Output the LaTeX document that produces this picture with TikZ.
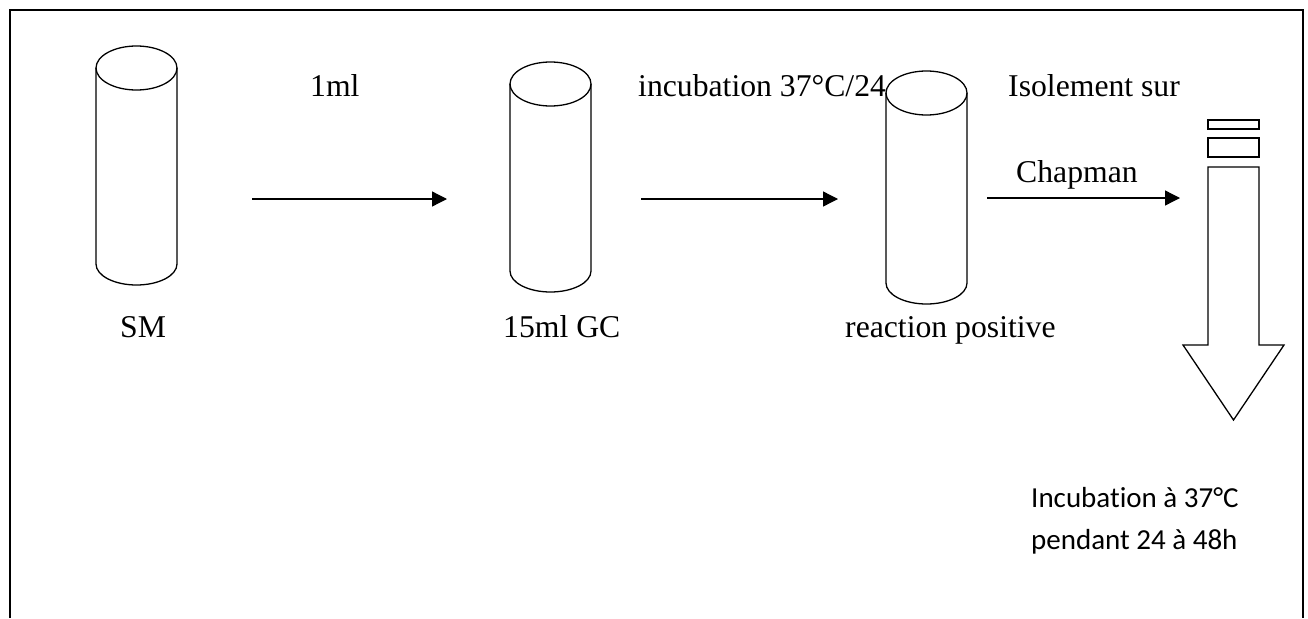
\documentclass[tikz,border=0pt]{standalone}
\usepackage{fontspec}
\setmainfont{Liberation Serif}
\newfontfamily\calibri[Ligatures=NoCommon]{Carlito}
\usetikzlibrary{arrows.meta,positioning}

\tikzset{
  tubeline/.style={line width=1.3pt},
  flow/.style={line width=1.3pt,-{Triangle[length=15pt,width=15pt]}},
  lbl/.style={inner sep=0pt,anchor=base west,font=\fontsize{31.7}{38}\selectfont},
}

% test tube: name, centre x, top y, bottom y
\newcommand{\tube}[4]{%
  \draw[tubeline] (#2-40.5,#3) -- (#2-40.5,#4)
    arc[start angle=180,end angle=0,x radius=40.5,y radius=21] -- (#2+40.5,#3);
  \draw[tubeline] (#2,#3) ellipse[x radius=40.5,y radius=22];
  \coordinate (#1) at (#2,#3);
}

\begin{document}
\begin{tikzpicture}[x=1pt,y=-1pt]
	\useasboundingbox (0,0) rectangle (1308,618);
	\draw[line width=2pt] (10,618) -- (10,10) -- (1303,10) -- (1303,618);

	\tube{sm}{136.5}{68}{264}
	\tube{gc}{550.5}{84}{271}
	\tube{pos}{926.5}{93}{283}

	\node[lbl] (smlbl) at (120,337) {SM};
	\node[lbl] (gclbl) at (503,337) {15ml GC};
	\node[lbl] (poslbl) at (845,337) {reaction positive};

	\node[lbl] (vol) at (310,96) {1ml};
	\node[lbl] (incub) at (638,96) {incubation 37°C/24};
	\node[lbl] (isol) at (1008,96) {Isolement sur};
	\node[lbl] (chap) at (1016,182) {Chapman};

	\coordinate (a1) at (252,199);
	\coordinate (b1) at (447,199);
	\coordinate (a2) at (641,199);
	\coordinate (b2) at (838,199);
	\coordinate (a3) at (987,198);
	\coordinate (b3) at (1180,198);
	\draw[flow] (a1) -- (b1);
	\draw[flow] (a2) -- (b2);
	\draw[flow] (a3) -- (b3);

	% Chapman plate and the big down arrow
	\draw[tubeline] (1208,120) rectangle (1259,129);
	\draw[tubeline] (1208,138) rectangle (1259,157);
	\draw[tubeline] (1208,167) -- (1208,345) -- (1183,345) -- (1233.5,420)
		-- (1284,345) -- (1259,345) -- (1259,167) -- cycle;

	\node[inner sep=0pt,anchor=base west,align=left,
		font=\calibri\fontsize{29}{42}\selectfont] (res) at (1031,549)
		{Incubation à 37°C\\pendant 24 à 48h};
\end{tikzpicture}
\end{document}
